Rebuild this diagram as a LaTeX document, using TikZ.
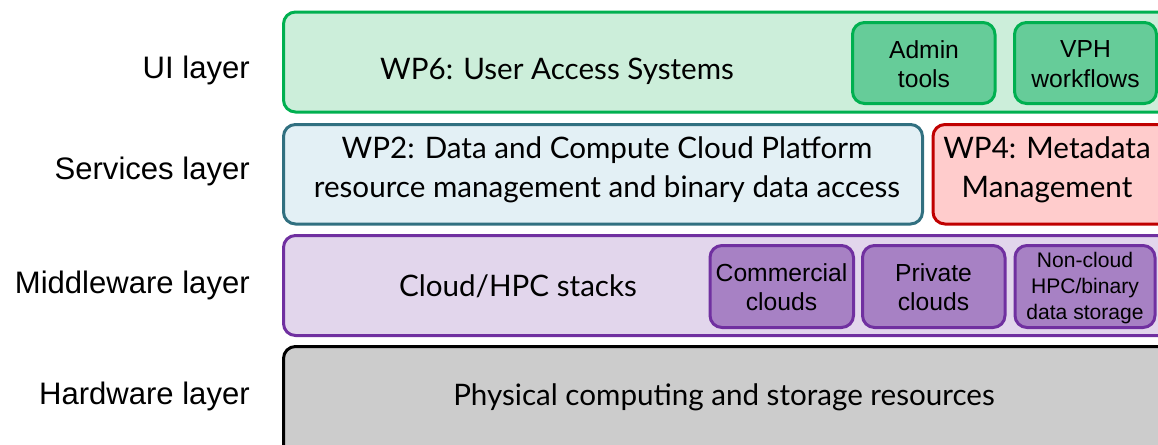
\documentclass[tikz,border=0pt]{standalone}
\usepackage{fontspec}
\setmainfont{Lato}
\newfontfamily\arialf{Liberation Sans}
\definecolor{uiline}{RGB}{0,176,80}
\definecolor{uifill}{RGB}{204,238,218}
\definecolor{uiinner}{RGB}{102,204,153}
\definecolor{wptwoline}{RGB}{49,112,128}
\definecolor{wptwofill}{RGB}{227,240,245}
\definecolor{wpfourline}{RGB}{192,0,0}
\definecolor{wpfourfill}{RGB}{255,204,204}
\definecolor{midline}{RGB}{112,48,160}
\definecolor{midfill}{RGB}{226,214,236}
\definecolor{midinner}{RGB}{167,129,196}
\definecolor{hwfill}{RGB}{204,204,204}
\tikzset{
  layerbox/.style={line width=2.25pt, rounded corners=9pt},
  innerbox/.style={line width=2.25pt, rounded corners=9pt},
  gilltext/.style={inner sep=0pt, anchor=base, font=\fontsize{22.2}{28}\selectfont, align=center},
  arialtext/.style={inner sep=0pt, font=\arialf\fontsize{18.5}{22.2}\selectfont, align=center},
  smallarial/.style={inner sep=0pt, font=\arialf\fontsize{15.8}{19.8}\selectfont, align=center},
  layerlabel/.style={inner sep=0pt, anchor=base east, font=\arialf\fontsize{23.3}{26}\selectfont},
}
\begin{document}
\begin{tikzpicture}[x=0.75pt,y=-0.75pt]
\useasboundingbox (0,0) rectangle (1158,444);
% layer boxes
\draw[layerbox, draw=uiline, fill=uifill] (283.5,12) rectangle (1180,112);
\draw[layerbox, draw=wptwoline, fill=wptwofill] (283.5,124.5) rectangle (922.5,224);
\draw[layerbox, draw=wpfourline, fill=wpfourfill] (933,124.5) rectangle (1180,224);
\draw[layerbox, draw=midline, fill=midfill] (283.5,235.5) rectangle (1180,335.5);
\draw[layerbox, draw=black, fill=hwfill] (283.5,346.5) rectangle (1180,460);
% inner boxes
\draw[innerbox, draw=uiline, fill=uiinner] (852.5,22.5) rectangle (995,103.5);
\draw[innerbox, draw=uiline, fill=uiinner] (1014.5,22.5) rectangle (1156.5,103.5);
\draw[innerbox, draw=midline, fill=midinner] (710,245.5) rectangle (853.5,327.5);
\draw[innerbox, draw=midline, fill=midinner] (862.5,245.5) rectangle (1005,327.5);
\draw[innerbox, draw=midline, fill=midinner] (1015,245.5) rectangle (1155,327.5);
% layer labels
\node[layerlabel] (lui) at (250,78) {UI layer};
\node[layerlabel] (lsv) at (250,179) {Services layer};
\node[layerlabel] (lmw) at (250,293) {Middleware layer};
\node[layerlabel] (lhw) at (250,404) {Hardware layer};
% main texts
\node[gilltext] (twp6) at (557,79) {WP6: User Access Systems};
\node[gilltext] (twp2a) at (607,158) {WP2: Data and Compute Cloud Platform};
\node[gilltext] (twp2b) at (607,197) {resource management and binary data access};
\node[gilltext] (twp4a) at (1047,158) {WP4: Metadata};
\node[gilltext] (twp4b) at (1047,197) {Management};
\node[gilltext] (tmw) at (518,296) {Cloud/HPC stacks};
\node[gilltext] (thw) at (724,405) {Physical computing and storage resources};
% inner texts
\node[arialtext] (tadmin) at (924,64) {Admin\\tools};
\node[arialtext] (tvph) at (1085.5,64) {VPH\\workflows};
\node[arialtext] (tcom) at (781.5,287) {Commercial\\clouds};
\node[arialtext] (tpriv) at (933.5,287) {Private\\clouds};
\node[smallarial] (tnon) at (1085,288) {Non-cloud\\HPC/binary\\data storage};
\end{tikzpicture}
\end{document}
